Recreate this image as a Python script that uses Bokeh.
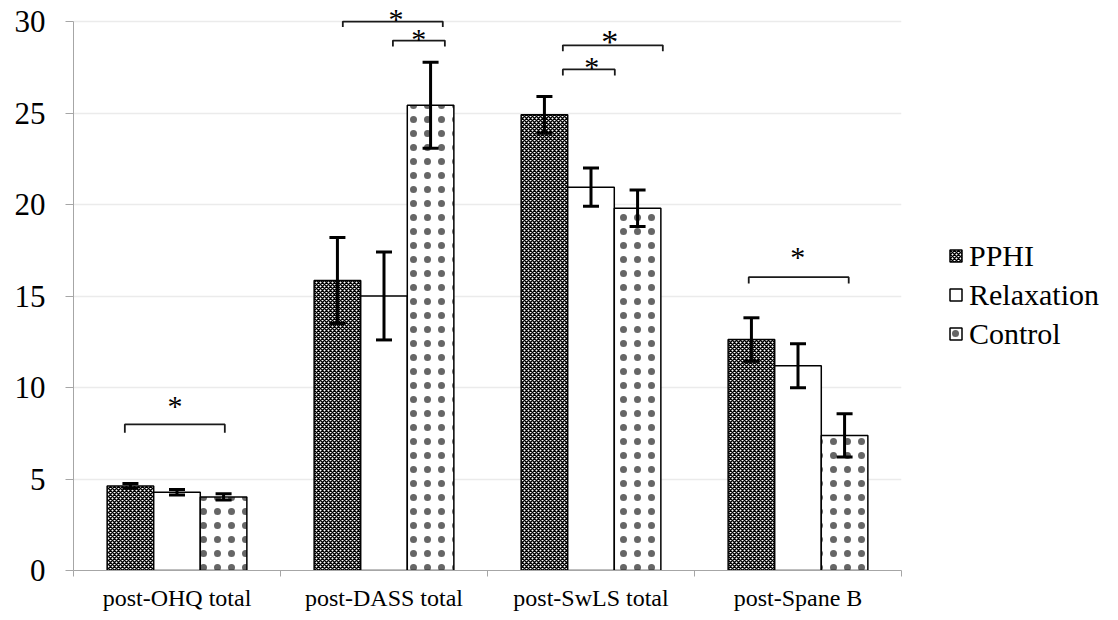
from bokeh.plotting import figure
from bokeh.models import (Range1d, FixedTicker, ColumnDataSource, Whisker, TeeHead,
                          Legend, LegendItem)
from bokeh.core.properties import value
from bokeh.embed import file_html
from bokeh.resources import INLINE

categories = ["post-OHQ total", "post-DASS total", "post-SwLS total", "post-Spane B"]
series = ["PPHI", "Relaxation", "Control"]
pphi = [4.62, 15.85, 24.90, 12.62]
pphi_err = [0.13, 2.35, 1.00, 1.19]
relax = [4.28, 15.00, 20.95, 11.19]
relax_err = [0.15, 2.40, 1.05, 1.20]
control = [4.02, 25.43, 19.80, 7.38]
control_err = [0.17, 2.35, 1.00, 1.18]
y_ticks = [0, 5, 10, 15, 20, 25, 30]

# significance brackets (annotations): category index, ends relative to category centre, level
bracket_cat = [0, 1, 1, 2, 2, 3]
bracket_left = [-0.252, -0.199, 0.043, -0.136, -0.136, -0.238]
bracket_right = [0.231, 0.284, 0.294, 0.347, 0.115, 0.245]
bracket_level = [7.98, 30.0, 28.96, 28.7, 27.38, 16.03]
bracket_drop = [0.45, 0.3, 0.33, 0.33, 0.33, 0.35]
star_offset = [-0.01, 0.058, 0.168, 0.091, 0.004, -0.001]
star_level = [9.18, 30.33, 29.24, 29.07, 27.7, 17.32]
star_size = ["30px", "30px", "30px", "34px", "30px", "30px"]

FONT = "Liberation Serif"
BAR_W = 0.225
n = len(categories)

p = figure(frame_width=828, frame_height=568, output_backend="svg", toolbar_location=None,
           x_range=Range1d(0, n), y_range=Range1d(0, 31.04),
           min_border_left=73, min_border_right=201, min_border_top=2, min_border_bottom=34)
p.outline_line_color = None
p.background_fill_color = "white"
p.border_fill_color = "white"

# axes
p.yaxis.ticker = FixedTicker(ticks=y_ticks)
p.yaxis.bounds = (0, 30)
p.yaxis.axis_line_color = "#a6a6a6"
p.yaxis.major_tick_line_color = "#a6a6a6"
p.yaxis.major_tick_out = 8
p.yaxis.major_tick_in = 0
p.yaxis.minor_tick_line_color = None
p.yaxis.major_label_text_font = FONT
p.yaxis.major_label_text_font_size = "31px"
p.yaxis.major_label_text_color = "black"
p.yaxis.major_label_standoff = 20

p.xaxis.ticker = FixedTicker(ticks=[i + 0.5 for i in range(n)], minor_ticks=list(range(n + 1)))
p.xaxis.major_label_overrides = {i + 0.5: c for i, c in enumerate(categories)}
p.xaxis.axis_line_color = "#a6a6a6"
p.xaxis.major_tick_line_color = None
p.xaxis.major_tick_out = 0
p.xaxis.major_tick_in = 0
p.xaxis.minor_tick_line_color = "#a6a6a6"
p.xaxis.minor_tick_out = 6
p.xaxis.minor_tick_in = 0
p.xaxis.major_label_text_font = FONT
p.xaxis.major_label_text_font_size = "24px"
p.xaxis.major_label_text_color = "black"
p.xaxis.major_label_standoff = 8

p.xgrid.grid_line_color = None
p.ygrid.ticker = FixedTicker(ticks=y_ticks[1:])
p.ygrid.grid_line_color = "#ebebeb"
p.ygrid.grid_line_width = 1.5

styles = [
    dict(fill_color="white", hatch_pattern="diagonal_cross", hatch_scale=4, hatch_weight=1.5,
         hatch_color="black"),
    dict(fill_color="white"),
    dict(fill_color="white", hatch_pattern="dot", hatch_scale=14, hatch_weight=0.1,
         hatch_color="black", hatch_alpha=0.6),
]
means = [pphi, relax, control]
errs = [pphi_err, relax_err, control_err]
offsets = [-BAR_W, 0.0, BAR_W]

items = []
for k, name in enumerate(series):
    xs = [i + 0.5 + offsets[k] for i in range(n)]
    src = ColumnDataSource(dict(x=xs, top=means[k],
                                upper=[m + e for m, e in zip(means[k], errs[k])],
                                lower=[m - e for m, e in zip(means[k], errs[k])]))
    r = p.vbar(x="x", top="top", bottom=0, width=BAR_W, source=src,
               line_color="black", line_width=1.5, **styles[k])
    items.append(LegendItem(label=name, renderers=[r]))
    w = Whisker(source=src, base="x", upper="upper", lower="lower",
                line_color="black", line_width=3,
                upper_head=TeeHead(size=16, line_width=3, line_color="black"),
                lower_head=TeeHead(size=16, line_width=3, line_color="black"))
    w.level = "annotation"
    p.add_layout(w)

# significance brackets
bxs, bys = [], []
for c, l, rr, lev, d in zip(bracket_cat, bracket_left, bracket_right, bracket_level, bracket_drop):
    x0 = c + 0.5 + l
    x1 = c + 0.5 + rr
    bxs.append([x0, x0, x1, x1])
    bys.append([lev - d, lev, lev, lev - d])
p.multi_line(xs=bxs, ys=bys, line_color="#1a1a1a", line_width=1.8)

star_src = ColumnDataSource(dict(x=[c + 0.5 + o for c, o in zip(bracket_cat, star_offset)],
                                 y=star_level, size=star_size, t=["*"] * len(star_level)))
p.text(x="x", y="y", text="t", source=star_src, text_font=value(FONT),
       text_font_size="size", text_align="center", text_baseline="middle",
       y_offset=3, text_color="black")

legend = Legend(items=items, location=(47, 218), orientation="vertical")
legend.label_text_font = FONT
legend.label_text_font_size = "30px"
legend.label_text_color = "black"
legend.glyph_width = 15
legend.glyph_height = 15
legend.label_standoff = 6
legend.label_height = 37
legend.spacing = 2
legend.padding = 0
legend.margin = 0
legend.border_line_color = None
legend.background_fill_color = None
p.add_layout(legend, "right")

open("out.html", "w").write(file_html(p, INLINE))
